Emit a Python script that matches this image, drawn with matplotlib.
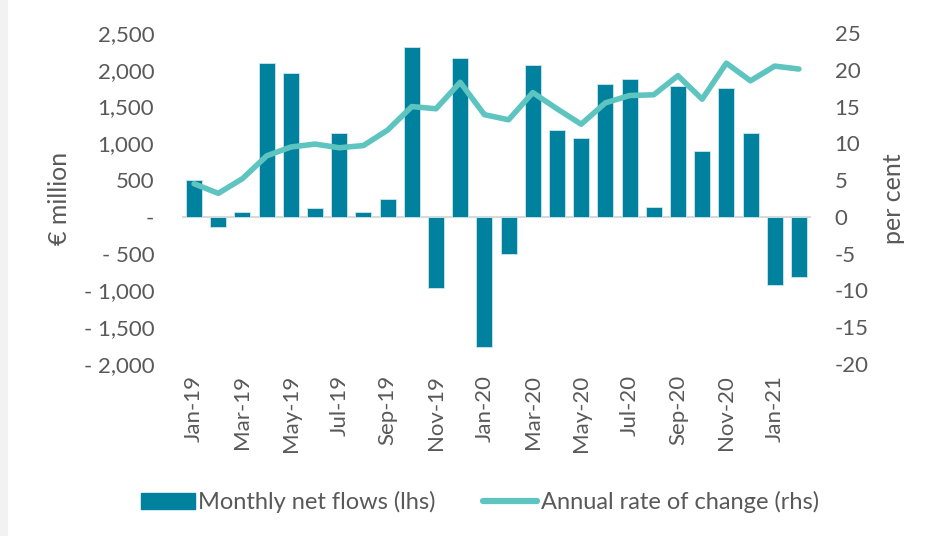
import matplotlib.pyplot as plt
import matplotlib.patches as mpatches
from matplotlib.lines import Line2D
import numpy as np

plt.rcParams['font.family'] = ['Lato', 'DejaVu Sans']

months = ['Jan-19', 'Feb-19', 'Mar-19', 'Apr-19', 'May-19', 'Jun-19', 'Jul-19', 'Aug-19',
          'Sep-19', 'Oct-19', 'Nov-19', 'Dec-19', 'Jan-20', 'Feb-20', 'Mar-20', 'Apr-20',
          'May-20', 'Jun-20', 'Jul-20', 'Aug-20', 'Sep-20', 'Oct-20', 'Nov-20', 'Dec-20',
          'Jan-21', 'Feb-21']
net_flows = [507, -136, 68, 2094, 1962, 126, 1142, 63, 249, 2316, -971, 2162, -1773,
             -499, 2067, 1187, 1074, 1813, 1881, 131, 1776, 897, 1754, 1142, -925, -812]
annual_rate = [4.5, 3.2, 5.2, 8.3, 9.5, 9.9, 9.4, 9.7, 11.8, 15.0, 14.7, 18.3, 13.9,
               13.2, 16.9, 14.7, 12.6, 15.5, 16.5, 16.6, 19.2, 16.0, 20.9, 18.5, 20.5, 20.1]
left_ticks = [2500, 2000, 1500, 1000, 500, 0, -500, -1000, -1500, -2000]
right_ticks = [25, 20, 15, 10, 5, 0, -5, -10, -15, -20]

bar_col = '#00829F'
line_col = '#5EC4C0'
txt_col = '#595959'

fig = plt.figure(figsize=(9.3, 5.36), dpi=100)
fig.patches.append(mpatches.Rectangle((0, 0), 7 / 930, 1, transform=fig.transFigure,
                                      color='#F2F2F2', zorder=0))
ax = fig.add_axes([182 / 930, 1 - 364 / 536, (811 - 182) / 930, (364 - 33) / 536])
ax2 = ax.twinx()

x = np.arange(len(months))
ax.bar(x, net_flows, width=0.66, color=bar_col, edgecolor='#CDE6EC', linewidth=0.6, zorder=2)
ax.axhline(0, color='#D9D9D9', lw=1.5, zorder=1)
ax2.plot(x, annual_rate, color=line_col, lw=4, solid_capstyle='round', zorder=3)

ax.set_xlim(-0.5, len(months) - 0.5)
ax.set_ylim(-2000, 2500)
ax2.set_ylim(-20, 25)


def fmt_left(v):
    if v == 0:
        return '-'
    if v < 0:
        return '- {:,}'.format(-v)
    return '{:,}'.format(v)


ax.set_yticks(left_ticks)
ax.set_yticklabels([fmt_left(v) for v in left_ticks])
ax2.set_yticks(right_ticks)
ax2.set_yticklabels([str(v) for v in right_ticks])
ax.set_xticks(x[::2])
ax.set_xticklabels(months[::2], rotation=90)

for a in (ax, ax2):
    for s in a.spines.values():
        s.set_visible(False)
    a.tick_params(length=0, labelsize=16, colors=txt_col)
ax.tick_params(axis='y', pad=20)
ax2.tick_params(axis='y', pad=17)
ax.tick_params(axis='x', pad=8)

ax.set_ylabel('€ million', fontsize=18, color=txt_col, labelpad=9)
ax2.set_ylabel('per cent', fontsize=18, color=txt_col, labelpad=10)
ax2.set_zorder(ax.get_zorder() + 1)
ax2.patch.set_visible(False)

handles = [mpatches.Patch(color=bar_col, label='Monthly net flows (lhs)'),
           Line2D([], [], color=line_col, lw=4.5, solid_capstyle='round',
                  label='Annual rate of change (rhs)')]
fig.legend(handles=handles, loc='center', bbox_to_anchor=(0.516, 1 - 502 / 536), ncol=2,
           frameon=False, fontsize=17, labelcolor=txt_col, handlelength=2.3,
           handletextpad=0.15, columnspacing=2.0, handleheight=0.7)

fig.savefig('out.png', dpi=100)
